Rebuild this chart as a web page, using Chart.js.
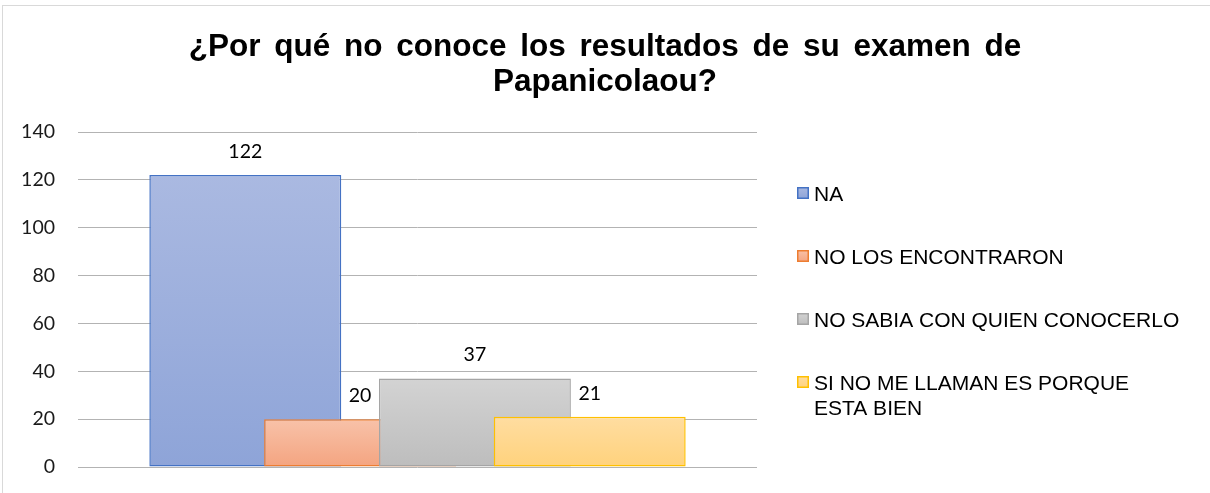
<!DOCTYPE html>
<html>
<head>
<meta charset="utf-8">
<script src="https://cdn.jsdelivr.net/npm/chart.js@4.4.0/dist/chart.umd.min.js"></script>
<style>
  html, body { margin: 0; padding: 0; background: #fff; }
  #wrap { position: relative; width: 1210px; height: 493px; overflow: hidden; }
  #frame { position: absolute; left: 2px; top: 5px; width: 1400px; height: 700px;
           border-top: 1.5px solid #d9d9d9; border-left: 1.5px solid #d9d9d9; }
  canvas { position: absolute; left: 0; top: 0; }
</style>
</head>
<body>
<div id="wrap">
  <div id="frame"></div>
  <canvas id="chart" width="1210" height="493"></canvas>
</div>
<script>
// Survey answers and counts
const categories = [''];
const seriesNames = ['NA', 'NO LOS ENCONTRARON', 'NO SABIA CON QUIEN CONOCERLO', 'SI NO ME LLAMAN ES PORQUE ESTA BIEN'];
const seriesValues = [122, 20, 37, 21];
const titleLines = ['¿Por qué no conoce los resultados de su examen de', 'Papanicolaou?'];
const yMin = 0, yMax = 140, yStep = 20;

// Fill gradients (top, bottom) and outlines per series
const fillTop = ['#aab9e1', '#f8c2a9', '#d3d3d3', '#ffdda1'];
const fillBottom = ['#8ea4d8', '#f4a480', '#bdbdbd', '#ffd27c'];
const outline = ['#4472c4', '#ed7d31', '#a5a5a5', '#ffc000'];

function barGradient(i) {
  return (ctx) => {
    const chart = ctx.chart;
    if (!chart.chartArea || ctx.type !== 'data') return fillBottom[i];
    const y = chart.scales.y;
    const top = y.getPixelForValue(ctx.raw);
    const bottom = y.getPixelForValue(0);
    const g = chart.ctx.createLinearGradient(0, top, 0, bottom);
    g.addColorStop(0, fillTop[i]);
    g.addColorStop(1, fillBottom[i]);
    return g;
  };
}

const datasets = seriesNames.map((name, i) => ({
  label: name,
  data: [seriesValues[i]],
  backgroundColor: barGradient(i),
  borderColor: outline[i],
  borderWidth: 1.5,
  borderSkipped: false
}));

// Later series are painted over earlier ones
const paintOrder = {
  id: 'paintOrder',
  beforeDatasetsDraw(chart) {
    const ctx = chart.ctx;
    const a = chart.chartArea;
    ctx.save();
    ctx.beginPath();
    ctx.rect(a.left - 2, a.top - 2, a.right - a.left + 4, a.bottom - a.top + 4);
    ctx.clip();
    chart.getSortedVisibleDatasetMetas().forEach(m => m.controller.draw());
    ctx.restore();
    return false;
  }
};

// Value labels, title and legend
const annotations = {
  id: 'annotations',
  afterDraw(chart) {
    const ctx = chart.ctx;
    ctx.save();

    // values above bars
    ctx.font = '19.5px Lato';
    ctx.fillStyle = '#000';
    ctx.textAlign = 'center';
    ctx.textBaseline = 'alphabetic';
    chart.getSortedVisibleDatasetMetas().forEach((m) => {
      m.data.forEach((bar, j) => {
        const v = chart.data.datasets[m.index].data[j];
        ctx.fillText(String(v), bar.x, bar.y - 17);
      });
    });

    // title
    ctx.font = 'bold 31.5px "Liberation Sans"';
    ctx.fillStyle = '#000';
    ctx.textAlign = 'center';
    titleLines.forEach((t, k) => {
      ctx.wordSpacing = k === 0 ? '5px' : '0px';
      ctx.fillText(t, chart.width / 2, 56 + k * 34.5);
    });
    ctx.wordSpacing = '0px';

    // legend
    ctx.font = '21px "Liberation Sans"';
    ctx.textAlign = 'left';
    const boxX = chart.chartArea.right + 40;
    const textX = boxX + 17;
    const maxW = 372;
    chart.data.datasets.forEach((ds, i) => {
      const cy = 193 + i * 63;
      const g = ctx.createLinearGradient(0, cy - 6, 0, cy + 6);
      g.addColorStop(0, fillTop[i]);
      g.addColorStop(1, fillBottom[i]);
      ctx.fillStyle = g;
      ctx.fillRect(boxX, cy - 6, 12, 12);
      ctx.strokeStyle = outline[i];
      ctx.lineWidth = 1.5;
      ctx.strokeRect(boxX + 0.75, cy - 5.25, 10.5, 10.5);

      const words = ds.label.split(' ');
      const lines = [];
      let cur = '';
      words.forEach(w => {
        const test = cur ? cur + ' ' + w : w;
        if (ctx.measureText(test).width > maxW && cur) { lines.push(cur); cur = w; }
        else cur = test;
      });
      lines.push(cur);
      ctx.fillStyle = '#000';
      lines.forEach((ln, k) => ctx.fillText(ln, textX, cy + 7.5 + k * 25));
    });
    ctx.restore();
  }
};

new Chart(document.getElementById('chart'), {
  type: 'bar',
  data: { labels: categories, datasets },
  options: {
    responsive: false,
    animation: false,
    devicePixelRatio: 1,
    layout: { padding: { top: 132, right: 453, bottom: 26, left: 0 } },
    datasets: { bar: { categoryPercentage: 0.6763, barPercentage: 1.672 } },
    plugins: {
      legend: { display: false },
      title: { display: false },
      tooltip: { enabled: false }
    },
    scales: {
      x: { display: false },
      y: {
        min: yMin, max: yMax,
        ticks: { stepSize: yStep, padding: 0, color: '#1a1a1a', font: { family: 'Lato', size: 19.5 } },
        grid: { color: '#b3b3b3', lineWidth: 1, drawTicks: true, tickLength: 23, tickColor: 'rgba(0,0,0,0)' },
        border: { display: false },
        afterFit(s) { s.width = 78; }
      }
    }
  },
  plugins: [paintOrder, annotations]
});
</script>
</body>
</html>
